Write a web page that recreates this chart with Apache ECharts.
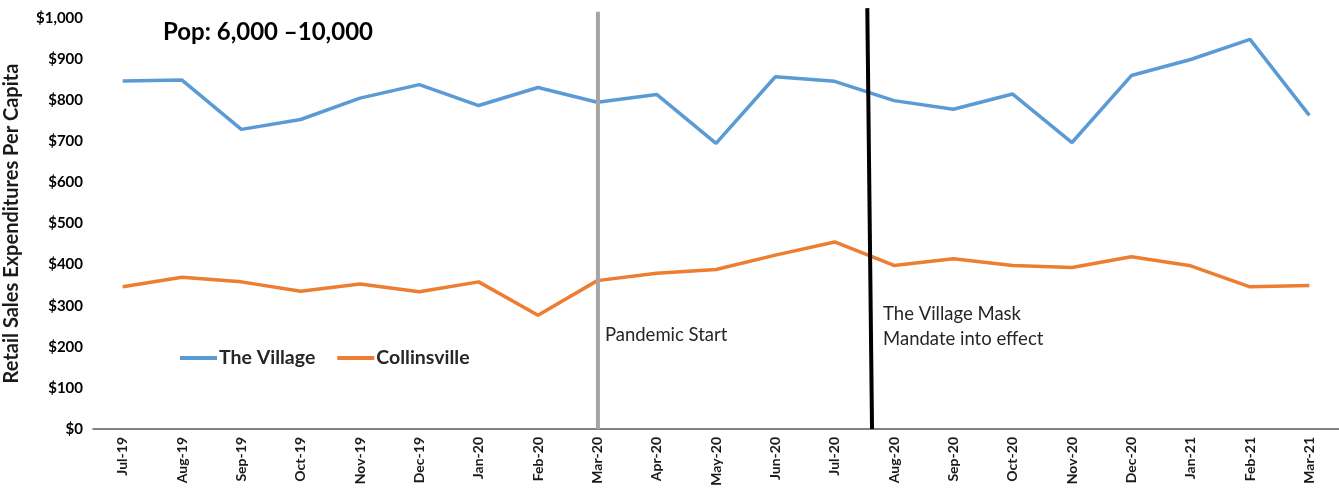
<!DOCTYPE html>
<html>
<head>
<meta charset="utf-8">
<script src="https://cdn.jsdelivr.net/npm/echarts@6/dist/echarts.min.js"></script>
<style>
  html, body { margin: 0; padding: 0; background: #fff; }
  #chart { width: 1339px; height: 488px; }
</style>
</head>
<body>
<div id="chart"></div>
<script>
// Monthly retail sales expenditures per capita
const months = ['Jul-19','Aug-19','Sep-19','Oct-19','Nov-19','Dec-19','Jan-20','Feb-20','Mar-20','Apr-20',
  'May-20','Jun-20','Jul-20','Aug-20','Sep-20','Oct-20','Nov-20','Dec-20','Jan-21','Feb-21','Mar-21'];
const theVillage = [847, 849, 729, 753, 805, 838, 787, 831, 795, 814, 695, 857, 846, 799, 778, 815, 697, 860, 899, 948, 763];
const collinsville = [346, 369, 358, 335, 353, 334, 358, 277, 361, 379, 388, 423, 455, 398, 414, 398, 393, 419, 397, 346, 349];

// Event markers (month index on a continuous scale)
const eventNames = ['Pandemic Start', 'The Village Mask\nMandate into effect'];
const eventTopX = [8.01, 12.55];
const eventBottomX = [8.01, 12.63];
const eventTopValue = [1015, 1024];
const eventLabelValue = [229, 249];
const eventColors = ['#A5A5A5', '#000000'];

const FONT = 'Lato, "Liberation Sans", sans-serif';

const chart = echarts.init(document.getElementById('chart'), null, { renderer: 'canvas' });

const eventData = eventNames.map((n, i) => ({
  name: n,
  value: [eventTopX[i], eventTopValue[i], eventBottomX[i], eventLabelValue[i], i]
}));

chart.setOption({
  animation: false,
  backgroundColor: '#ffffff',
  title: {
    text: 'Pop: 6,000 \u201310,000',
    left: 158,
    top: 15,
    textStyle: { fontFamily: FONT, fontWeight: 'bold', fontSize: 24, color: '#000' }
  },
  legend: {
    data: ['The Village', 'Collinsville'],
    left: 175,
    top: 343,
    icon: 'rect',
    itemWidth: 37,
    itemHeight: 4,
    itemGap: 22,
    textStyle: { fontFamily: FONT, fontWeight: 'bold', fontSize: 19.5, color: '#262626', padding: [0, 0, 0, -3] }
  },
  grid: { left: 93, right: 0, top: 18, bottom: 59, containLabel: false, outerBoundsMode: 'none' },
  xAxis: [{
    type: 'category',
    data: months,
    boundaryGap: true,
    axisLine: { lineStyle: { color: '#595959', width: 1.5 } },
    axisTick: { show: false },
    axisLabel: {
      rotate: 90,
      margin: 8,
      fontFamily: FONT,
      fontWeight: 'bold',
      fontSize: 14,
      color: '#1a1a1a'
    }
  }, {
    type: 'value',
    min: -0.5,
    max: 20.5,
    show: false
  }],
  yAxis: {
    type: 'value',
    min: 0,
    max: 1000,
    interval: 100,
    name: 'Retail Sales Expenditures Per Capita',
    nameLocation: 'middle',
    nameGap: 71,
    nameTextStyle: { fontFamily: FONT, fontWeight: 'bold', fontSize: 20, color: '#1a1a1a' },
    axisLine: { show: false },
    axisTick: { show: false },
    splitLine: { show: false },
    axisLabel: {
      margin: 10,
      fontFamily: FONT,
      fontWeight: 'bold',
      fontSize: 15,
      color: '#000',
      formatter: v => '$' + v.toLocaleString('en-US')
    }
  },
  series: [{
    name: 'The Village',
    type: 'line',
    data: theVillage,
    symbol: 'none',
    color: '#5B9BD5',
    lineStyle: { width: 3.5, color: '#5B9BD5' }
  }, {
    name: 'Collinsville',
    type: 'line',
    data: collinsville,
    symbol: 'none',
    color: '#ED7D31',
    lineStyle: { width: 3.5, color: '#ED7D31' }
  }, {
    name: 'events',
    type: 'custom',
    xAxisIndex: 1,
    yAxisIndex: 0,
    clip: false,
    silent: true,
    z: 5,
    data: eventData,
    renderItem: function (params, api) {
      const i = api.value(4);
      const top = api.coord([api.value(0), api.value(1)]);
      const bot = api.coord([api.value(2), 0]);
      const lab = api.coord([api.value(2), api.value(3)]);
      return {
        type: 'group',
        children: [{
          type: 'line',
          shape: { x1: top[0], y1: top[1], x2: bot[0], y2: bot[1] },
          style: { stroke: eventColors[i], lineWidth: 4 }
        }, {
          type: 'text',
          x: bot[0] + (i === 0 ? 7 : 11),
          y: lab[1],
          style: {
            text: eventNames[i],
            fontFamily: FONT,
            fontSize: 18.5,
            lineHeight: 25,
            fill: '#262626',
            verticalAlign: 'middle',
            align: 'left'
          }
        }]
      };
    }
  }]
});
</script>
</body>
</html>
